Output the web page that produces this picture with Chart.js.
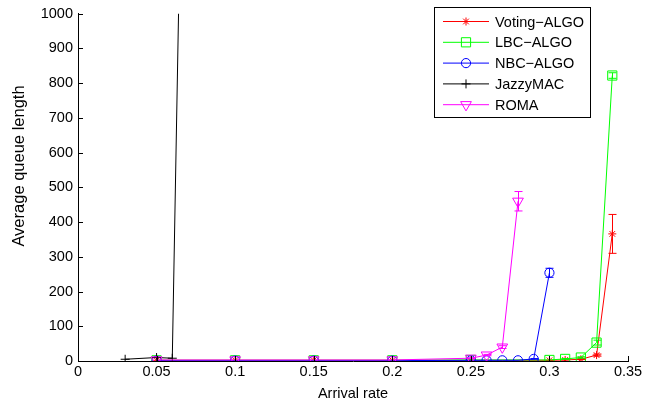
<!DOCTYPE html>
<html lang="en">
  <head>
    <meta charset="UTF-8">
    <title>Average queue length</title>
    <script src="https://cdn.jsdelivr.net/npm/chart.js"></script>
    <style>
      html, body{margin: 0; padding: 0; background: #fff;}
      #wrap{width: 667px; height: 403px;}
    </style>
  </head>
  <body>
    <div id="wrap">
      <canvas id="myChart" width="667" height="403"></canvas>
    </div>
    <script>
      // data
      const rateVoting = [0.05, 0.1, 0.15, 0.2, 0.25, 0.3, 0.31, 0.32, 0.33, 0.34];
      const votingQueue = [2, 2, 2, 2, 2, 2, 3, 5, 17, 366];
      const votingErr = [0, 0, 0, 0, 0, 0, 0, 1, 3, 56];

      const rateLBC = [0.05, 0.1, 0.15, 0.2, 0.25, 0.3, 0.31, 0.32, 0.33, 0.34];
      const lbcQueue = [2, 2, 2, 2, 3, 3, 6, 10, 53, 822];
      const lbcErr = [0, 0, 0, 0, 0, 0, 1, 2, 7, 8];

      const rateNBC = [0.05, 0.1, 0.15, 0.2, 0.25, 0.26, 0.27, 0.28, 0.29, 0.3];
      const nbcQueue = [1, 1, 1, 1, 2, 2, 2, 2, 6, 254];
      const nbcErr = [0, 0, 0, 0, 0, 0, 0, 0, 1, 13];

      const rateJazzy = [0.03, 0.05, 0.06, 0.07];
      const jazzyQueue = [5, 10, 8, 2500];

      const rateROMA = [0.05, 0.1, 0.15, 0.2, 0.25, 0.26, 0.27, 0.28];
      const romaQueue = [3, 3, 3, 3, 8, 17, 40, 460];
      const romaErr = [0, 0, 0, 0, 1, 2, 4, 28];

      const xTicks = [0, 0.05, 0.1, 0.15, 0.2, 0.25, 0.3, 0.35];
      const yTicks = [0, 100, 200, 300, 400, 500, 600, 700, 800, 900, 1000];

      const FONT = "'Liberation Sans', Arial, sans-serif";

      function pts(xs, ys){
        return xs.map((x, i) => ({x: x, y: ys[i]}));
      }

      // the figure prints the dash as a minus sign
      const series = [
        {label: 'Voting\u2212ALGO', color: '#ff0000', style: 'star', radius: 4, rot: 0, xs: rateVoting, ys: votingQueue, err: votingErr, order: 5},
        {label: 'LBC\u2212ALGO', color: '#00ff00', style: 'rect', radius: 6.5, rot: 0, xs: rateLBC, ys: lbcQueue, err: lbcErr, order: 4},
        {label: 'NBC\u2212ALGO', color: '#0000ff', style: 'circle', radius: 4.6, rot: 0, xs: rateNBC, ys: nbcQueue, err: nbcErr, order: 3},
        {label: 'JazzyMAC', color: '#000000', style: 'cross', radius: 4.5, rot: 0, xs: rateJazzy, ys: jazzyQueue, err: null, order: 2},
        {label: 'ROMA', color: '#ff00ff', style: 'triangle', radius: 6.2, rot: 180, xs: rateROMA, ys: romaQueue, err: romaErr, order: 1}
      ];

      // error bars with caps
      const errorBars = {
        id: 'errorBars',
        afterDatasetsDraw(chart){
          const ctx = chart.ctx, xs = chart.scales.x, ys = chart.scales.y;
          ctx.save();
          series.forEach(s => {
            if(!s.err) return;
            ctx.strokeStyle = s.color;
            ctx.lineWidth = 1;
            s.xs.forEach((x, i) => {
              if(!s.err[i]) return;
              const px = Math.round(xs.getPixelForValue(x)) + 0.5;
              const top = ys.getPixelForValue(s.ys[i] + s.err[i]);
              const bot = ys.getPixelForValue(s.ys[i] - s.err[i]);
              ctx.beginPath();
              ctx.moveTo(px, top); ctx.lineTo(px, bot);
              ctx.moveTo(px - 4, top); ctx.lineTo(px + 4, top);
              ctx.moveTo(px - 4, bot); ctx.lineTo(px + 4, bot);
              ctx.stroke();
            });
          });
          ctx.restore();
        }
      };

      // inward tick marks, y title and the boxed legend
      const axesAndLegend = {
        id: 'axesAndLegend',
        afterDraw(chart){
          const ctx = chart.ctx, xs = chart.scales.x, ys = chart.scales.y;
          const area = chart.chartArea;
          ctx.save();
          ctx.strokeStyle = '#000';
          ctx.lineWidth = 1;
          ctx.beginPath();
          xTicks.forEach(v => {
            const px = Math.round(xs.getPixelForValue(v)) + 0.5;
            ctx.moveTo(px, area.bottom); ctx.lineTo(px, area.bottom - 5);
          });
          yTicks.forEach(v => {
            const py = Math.round(ys.getPixelForValue(v)) + 0.5;
            ctx.moveTo(area.left, py); ctx.lineTo(area.left + 5, py);
          });
          ctx.stroke();

          // y title (sits a bit above the axis middle in the original)
          ctx.save();
          ctx.translate(19, 166);
          ctx.rotate(-Math.PI / 2);
          ctx.font = '16.5px ' + FONT;
          ctx.fillStyle = '#000';
          ctx.textAlign = 'center';
          ctx.textBaseline = 'middle';
          ctx.fillText('Average queue length', 0, 0);
          ctx.restore();

          // legend box
          const bx = 434.5, by = 7.5, bw = 156, bh = 110;
          ctx.fillStyle = '#fff';
          ctx.fillRect(bx, by, bw, bh);
          ctx.strokeRect(bx, by, bw, bh);
          ctx.font = '14.5px ' + FONT;
          ctx.textBaseline = 'middle';
          ctx.textAlign = 'left';
          series.forEach((s, i) => {
            const y = 21.5 + i * 20.8;
            ctx.strokeStyle = s.color;
            ctx.beginPath();
            ctx.moveTo(443, y); ctx.lineTo(489, y);
            ctx.stroke();
            ctx.fillStyle = 'rgba(0,0,0,0)';
            Chart.helpers.drawPoint(ctx, {pointStyle: s.style, radius: s.radius, rotation: s.rot, borderWidth: 1}, 466, y);
            ctx.fillStyle = '#000';
            ctx.fillText(s.label, 495, y + 1);
          });
          ctx.restore();
        }
      };

      new Chart(document.getElementById('myChart'), {
        type: 'line',
        data: {
          datasets: series.map(s => ({
            label: s.label,
            data: pts(s.xs, s.ys),
            borderColor: s.color,
            backgroundColor: 'rgba(0,0,0,0)',
            borderWidth: 1,
            pointStyle: s.style,
            pointRadius: s.radius,
            pointRotation: s.rot,
            pointBorderColor: s.color,
            pointBackgroundColor: 'rgba(0,0,0,0)',
            pointBorderWidth: 1,
            tension: 0,
            fill: false,
            order: s.order
          }))
        },
        options: {
          responsive: false,
          animation: false,
          events: [],
          layout: {padding: {left: 0, right: 39, top: 7, bottom: 0}},
          plugins: {
            legend: {display: false},
            tooltip: {enabled: false}
          },
          scales: {
            x: {
              type: 'linear',
              min: 0, max: 0.35,
              afterFit: s => { s.height = 42; },
              afterBuildTicks: s => { s.ticks = xTicks.map(v => ({value: v})); },
              grid: {display: false, drawTicks: false},
              border: {display: true, color: '#000', width: 1},
              ticks: {
                color: '#000', padding: 2, maxRotation: 0,
                font: {family: FONT, size: 14.5},
                callback: v => String(Math.round(v * 100) / 100)
              },
              title: {
                display: true, text: 'Arrival rate', color: '#000',
                font: {family: FONT, size: 14.5}, padding: {top: 0, bottom: 0}
              }
            },
            y: {
              type: 'linear',
              min: 0, max: 1000,
              afterFit: s => { s.width = 78; },
              afterBuildTicks: s => { s.ticks = yTicks.map(v => ({value: v})); },
              grid: {display: false, drawTicks: false},
              border: {display: true, color: '#000', width: 1},
              ticks: {
                color: '#000', padding: 5,
                font: {family: FONT, size: 14.5},
                callback: v => String(v)
              }
            }
          }
        },
        plugins: [errorBars, axesAndLegend]
      });
    </script>
  </body>
</html>
